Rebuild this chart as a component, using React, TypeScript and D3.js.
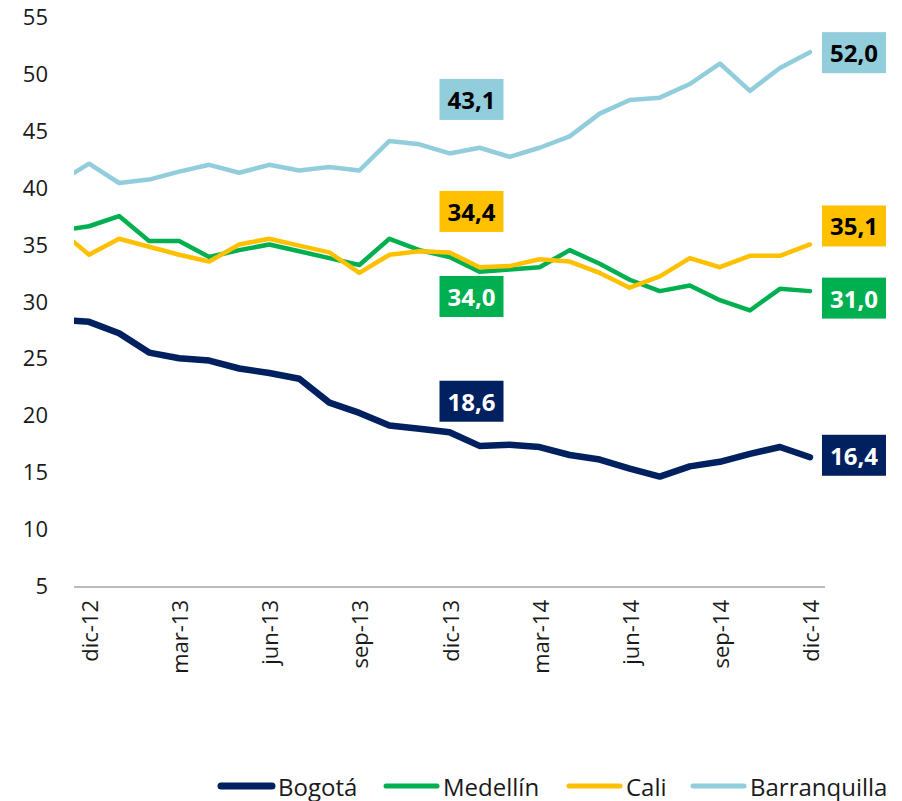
import React from "react";
import * as d3 from "d3";

const categories = [
  "nov-12","dic-12","ene-13","feb-13","mar-13","abr-13","may-13","jun-13","jul-13","ago-13","sep-13","oct-13","nov-13","dic-13",
  "ene-14","feb-14","mar-14","abr-14","may-14","jun-14","jul-14","ago-14","sep-14","oct-14","nov-14","dic-14",
];
const tickCategories = ["dic-12","mar-13","jun-13","sep-13","dic-13","mar-14","jun-14","sep-14","dic-14"];
const yTicks = [5,10,15,20,25,30,35,40,45,50,55];

const bogota = [28.5,28.3,27.3,25.6,25.1,24.9,24.2,23.8,23.3,21.2,20.3,19.2,18.9,18.6,17.4,17.5,17.3,16.6,16.2,15.4,14.7,15.6,16.0,16.7,17.3,16.4];
const medellin = [36.3,36.7,37.6,35.4,35.4,34.0,34.6,35.1,34.5,33.9,33.3,35.6,34.6,34.0,32.7,32.9,33.1,34.6,33.4,32.0,31.0,31.5,30.2,29.3,31.2,31.0];
const cali = [36.4,34.2,35.6,34.9,34.2,33.6,35.1,35.6,35.0,34.4,32.6,34.2,34.5,34.4,33.1,33.2,33.8,33.6,32.6,31.3,32.3,33.9,33.1,34.1,34.1,35.1];
const barranquilla = [40.6,42.2,40.5,40.8,41.5,42.1,41.4,42.1,41.6,41.9,41.6,44.2,43.9,43.1,43.6,42.8,43.6,44.6,46.6,47.8,48.0,49.2,51.0,48.6,50.6,52.0];

const seriesNames = ["Bogotá","Medellín","Cali","Barranquilla"];
const seriesData = [bogota, medellin, cali, barranquilla];
const colors = ["#002060","#00B050","#FFC000","#92CDDC"];
const widths = [6.5,4.5,4.5,4.5];
const labelText = ["#ffffff","#ffffff","#000000","#000000"];
const labelCats = ["dic-13","dic-14"];
// label offsets (layout)
const midOffsets = [-31, 39.5, -41, -54];
const endOffsets = [-2, 7, -18.5, 0.5];

const FONT = "'Open Sans', sans-serif";

export default function App() {
  const W = 902, H = 801;
  const firstIdx = categories.indexOf("dic-12");
  const x = d3.scaleLinear().domain([firstIdx - 0.5, categories.length - 0.5]).range([74, 825]);
  const y = d3.scaleLinear().domain([5, 55]).range([587, 18]);
  const line = d3.line<number>().x((_, i) => x(i)).y((d) => y(d));

  const legendX = [218, 383, 566, 690];

  return (
    <svg width={W} height={H} style={{ position: "absolute", left: 0, top: 0, background: "#fff" }} fontFamily={FONT}>
      <defs>
        <clipPath id="plot">
          <rect x={74} y={0} width={830} height={600} />
        </clipPath>
      </defs>
      {yTicks.map((t) => (
        <text key={t} x={48} y={y(t) - 2} textAnchor="end" dominantBaseline="central" fontSize={22} fill="#1a1a1a">{t}</text>
      ))}
      <line x1={74} x2={825} y1={y(5)} y2={y(5)} stroke="#A6A6A6" strokeWidth={1.5} />
      {tickCategories.map((c) => {
        const xi = x(categories.indexOf(c));
        return (
          <text key={c} transform={`translate(${xi},600) rotate(-90)`} textAnchor="end" dominantBaseline="central" fontSize={22} fill="#1a1a1a">{c}</text>
        );
      })}
      <g clipPath="url(#plot)">
        {seriesData.map((s, k) => (
          <path key={k} d={line(s) || ""} fill="none" stroke={colors[k]} strokeWidth={widths[k]} strokeLinejoin="round" strokeLinecap="round" />
        ))}
      </g>
      {seriesData.map((s, k) =>
        labelCats.map((c, j) => {
          const i = categories.indexOf(c);
          const cx = x(i) + (j === 0 ? 22 : 44);
          const cy = y(s[i]) + (j === 0 ? midOffsets[k] : endOffsets[k]);
          return (
            <g key={k + "-" + j}>
              <rect x={cx - 32} y={cy - 20.5} width={64} height={41} fill={colors[k]} />
              <text x={cx} y={cy} textAnchor="middle" dominantBaseline="central" fontSize={24} fontWeight="bold" fill={labelText[k]}>
                {s[i].toFixed(1).replace(".", ",")}
              </text>
            </g>
          );
        })
      )}
      {seriesNames.map((n, k) => (
        <g key={n}>
          <line x1={legendX[k] + 3} x2={legendX[k] + 54} y1={786} y2={786} stroke={colors[k]} strokeWidth={k === 0 ? 7 : 5} strokeLinecap="round" />
          <text x={legendX[k] + 60} y={786} dominantBaseline="central" fontSize={24} fill="#1a1a1a">{n}</text>
        </g>
      ))}
    </svg>
  );
}
